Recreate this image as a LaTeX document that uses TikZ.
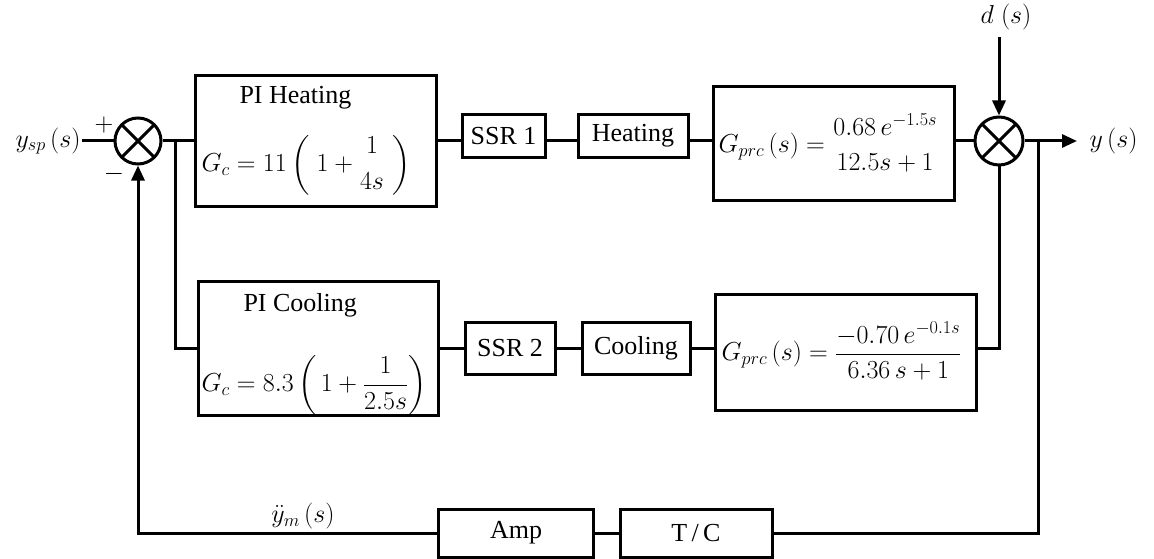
\documentclass[tikz,border=0pt]{standalone}
\usepackage{fix-cm}
\usepackage{amsmath}
\usepackage{fontspec}
\setmainfont{Liberation Serif}
\usetikzlibrary{arrows.meta}
\begin{document}
\begin{tikzpicture}[x=1pt,y=-1pt,line width=3pt,
  txt/.style={font=\fontsize{26}{30}\selectfont, inner sep=0pt},
  blk/.style={draw, rectangle, inner sep=0pt, line width=3pt, font=\fontsize{26}{30}\selectfont},
  sumj/.style={draw, circle, inner sep=0pt, line width=3pt,
    path picture={\draw[line width=3pt]
      (path picture bounding box.north west) -- (path picture bounding box.south east)
      (path picture bounding box.north east) -- (path picture bounding box.south west);}},
  arr/.style={-{Triangle[length=15pt,width=13pt]}}]
\useasboundingbox (0,0) rectangle (1154,559);

% left summing junction and input
\node[sumj, minimum size=46pt] (s1) at (138,141) {};
\node[txt, anchor=east] (ysp) at (82,141) {$y_{sp}\,(s)$};
\node[txt] (plus) at (104,125) {$+$};
\node[txt] (minus) at (114,174) {$-$};
\draw (ysp.east) -- (s1.west);

% upper path
\node[blk, minimum width=241pt, minimum height=131pt] (pih) at (316,141) {};
\node[txt, anchor=west] (pihT) at (238,98) {PI Heating};
\node[txt, anchor=west] (pihE) at (200,165) {$G_c = 11\left(\;1+\genfrac{}{}{0pt}{0}{1}{4s}\;\right)$};
\node[blk, minimum width=83pt, minimum height=43pt] (ssr1) at (503.5,136) {SSR 1};
\node[blk, minimum width=110pt, minimum height=43pt] (heat) at (633,136) {Heating};
\node[blk, minimum width=241pt, minimum height=113pt] (g1) at (833.5,143.5) {};
\node[txt, anchor=west] (g1E) at (717,143) {$G_{prc}\,(s) = \genfrac{}{}{0pt}{0}{0.68\,e^{-1.5s}}{12.5s+1}$};

\coordinate (b1) at (175,141);
\draw (s1.east) -- (pih.west);
\draw (pih.east) -- (pih.east -| ssr1.west);
\draw (pih.east -| ssr1.east) -- (pih.east -| heat.west);
\draw (pih.east -| heat.east) -- (pih.east -| g1.west);

% right summing junction
\node[sumj, minimum size=48pt] (s2) at (999,141) {};
\node[txt] (dlab) at (1006,17) {$d\;(s)$};
\draw[arr] (dlab.south -| s2.north) ++(0,6) -- (s2.north);
\draw (pih.east -| g1.east) -- (s2.west);
\coordinate (yo) at (1077,141);
\node[txt, anchor=west] (ylab) at (1088,141) {$y\,(s)$};
\draw[arr] (s2.east) -- (yo);
\coordinate (b2) at (1038,141);

% lower path
\node[blk, minimum width=240pt, minimum height=134pt] (pic) at (318,348) {};
\node[txt, anchor=west] (picT) at (242,305) {PI Cooling};
\node[txt, anchor=west] (picE) at (200,385) {$G_c = 8.3\left(\,1+\dfrac{1}{2.5s}\right)$};
\node[blk, minimum width=90pt, minimum height=52pt] (ssr2) at (510,348) {SSR 2};
\node[blk, minimum width=108pt, minimum height=52pt] (cool) at (636,348) {Cooling};
\node[blk, minimum width=261pt, minimum height=116pt] (g2) at (845.5,352) {};
\node[txt, anchor=west] (g2E) at (720,351) {$G_{prc}\,(s) = \dfrac{-0.70\,e^{-0.1s}}{6.36\,s+1}$};

\draw (b1) |- (pic.west);
\draw (pic.east) -- (ssr2.west);
\draw (ssr2.east) -- (cool.west);
\draw (cool.east) -- (cool.east -| g2.west);
\draw (cool.east -| g2.east) -| (s2.south);

% feedback path
\node[blk, minimum width=155pt, minimum height=48pt] (amp) at (516,533) {Amp};
\node[blk, minimum width=152pt, minimum height=48pt] (tc) at (696,533) {T\,/\,C};
\node[txt] (ym) at (303,516) {$\ddot{y}_m\,(s)$};
\draw (b2) |- (tc.east);
\draw (tc.west) -- (amp.east);
\draw[arr] (amp.west) -| (s1.south);
\end{tikzpicture}
\end{document}
